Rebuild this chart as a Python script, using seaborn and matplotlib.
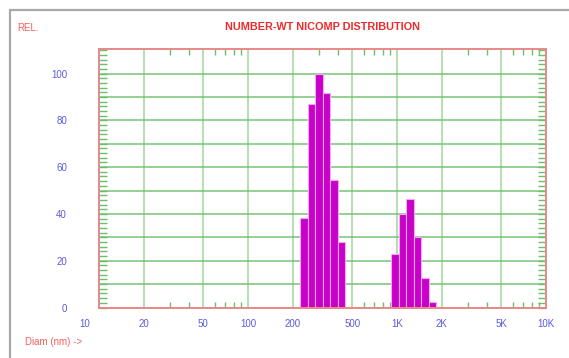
import numpy as np
import matplotlib
matplotlib.use("Agg")
import matplotlib.pyplot as plt
import matplotlib.ticker as mticker
from matplotlib.lines import Line2D
from matplotlib.transforms import ScaledTranslation
import seaborn as sns

# number-weighted nicomp distribution, two peaks (diameter nm -> relative %)
diam_peak1 = [238, 267, 300, 337, 378, 424]
rel_peak1 = [38.4, 87, 100, 91.5, 54.3, 27.9]
diam_peak2 = [971, 1089, 1222, 1371, 1538, 1726]
rel_peak2 = [22.7, 39.8, 46.5, 30.2, 12.7, 2.2]

x_ticks = [10, 20, 50, 100, 200, 500, 1000, 2000, 5000, 10000]
x_ticklabels = ["10", "20", "50", "100", "200", "500", "1K", "2K", "5K", "10K"]
y_gridlines = [0, 10, 20, 30, 40, 50, 60, 70, 80, 90, 100]
y_labelled = [0, 20, 40, 60, 80, 100]

sns.set_style("white")
plt.rcParams['font.family'] = ['Liberation Sans', 'DejaVu Sans']

RED = '#ee2a2a'
SPINE = '#e88888'
GREEN = '#6cc06c'
BLUE = '#5a5ae0'
BAR = '#c800c8'

fig = plt.figure(figsize=(5.69, 3.58), dpi=100)
ax = fig.add_axes([99/569, 1-307.5/358, (546-99)/569, (307.5-49)/358])

# bars through seaborn histplot, one bin per reported diameter
for diam, rel in [(diam_peak1, rel_peak1), (diam_peak2, rel_peak2)]:
    lo = np.log10(diam[0]) - 0.025
    hi = np.log10(diam[-1]) + 0.025
    sns.histplot(x=diam, weights=rel, bins=len(diam), binrange=(lo, hi),
                 log_scale=True, ax=ax, color=BAR, edgecolor='#f2a8f2',
                 linewidth=0.8, alpha=1)

ax.set_xscale('log')
ax.set_xlim(10, 10000)
ax.set_ylim(0, 110.5)
ax.set_xlabel('')
ax.set_ylabel('')

ax.set_xticks(x_ticks)
ax.set_xticklabels(x_ticklabels)
ax.xaxis.set_minor_locator(mticker.LogLocator(base=10, subs=[3, 4, 6, 7, 8, 9], numticks=20))
ax.xaxis.set_minor_formatter(mticker.NullFormatter())

ax.set_yticks(y_gridlines)
ax.set_yticklabels([str(v) if v in y_labelled else '' for v in y_gridlines])
ax.yaxis.set_minor_locator(mticker.MultipleLocator(2))

ax.tick_params(axis='x', which='major', length=0, pad=8.5, labelsize=7, labelcolor=BLUE)
ax.tick_params(axis='x', which='minor', direction='in', length=4, width=1,
               color=GREEN, top=True, bottom=True)
ax.tick_params(axis='y', which='major', direction='in', length=6, width=1,
               color=GREEN, left=True, right=True, pad=23, labelsize=7, labelcolor=BLUE)
ax.tick_params(axis='y', which='minor', direction='in', length=6, width=1,
               color=GREEN, left=True, right=True)

# shift the "10" label a bit left like the original
lab = ax.get_xticklabels()[0]
lab.set_transform(lab.get_transform() + ScaledTranslation(-14/100, 0, fig.dpi_scale_trans))

ax.set_axisbelow(True)
ax.grid(True, axis='y', which='major', color=GREEN, linewidth=1.2, alpha=0.85)
ax.grid(True, axis='x', which='major', color=GREEN, linewidth=1.2, alpha=0.6)
for s in ax.spines.values():
    s.set_visible(True)
    s.set_color(SPINE)
    s.set_linewidth(1.4)

fig.text(322.5/569, 1-27/358, 'NUMBER-WT NICOMP DISTRIBUTION', color=RED,
         fontsize=7.8, fontweight='bold', ha='center', va='center')
fig.text(17/569, 1-28/358, 'REL.', color='#f26060', fontsize=7, ha='left', va='center')
fig.text(25/569, 1-342/358, 'Diam (nm) ->', color='#f26060', fontsize=7, ha='left', va='center')

# window frame
fig.add_artist(Line2D([10/569, 1.01], [1-10/358, 1-10/358], color='#a8a8a8', lw=1.6))
fig.add_artist(Line2D([10/569, 10/569], [1-10/358, -0.01], color='#a8a8a8', lw=1.6))

fig.savefig('out.png', dpi=100)
